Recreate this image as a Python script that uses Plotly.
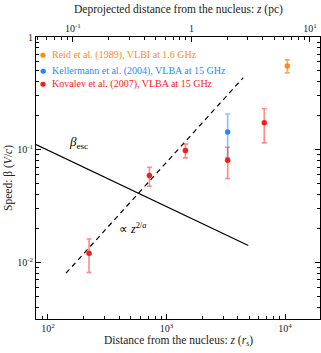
import plotly.graph_objects as go
import numpy as np

# ---- data ----
reid_x = [10450]
reid_y = [0.554]
reid_hi = [0.626]
reid_lo = [0.480]

kell_x = [3280]
kell_y = [0.1435]
kell_hi = [0.207]
kell_lo = [0.085]

kov_x = [222, 717, 1443, 3280, 6680]
kov_y = [0.0120, 0.0589, 0.098, 0.0804, 0.1734]
kov_hi = [0.0161, 0.0697, 0.112, 0.105, 0.232]
kov_lo = [0.0081, 0.0473, 0.0845, 0.0554, 0.1147]

besc_x = [79.3, 4900]
besc_y = [0.1107, 0.0141]

pow_x = [142, 4446]
pow_y = [0.0080, 0.436]

PC_OFFSET = 3.21  # log10(r_s per pc)

FONT = "Liberation Serif"
ORANGE = "#ff8c1a"
BLUE = "#1a8cff"
RED = "#ff1a1a"


def err(y, hi, lo):
    return ([h - v for v, h in zip(y, hi)], [v - l for v, l in zip(y, lo)])


fig = go.Figure()

fig.add_trace(go.Scatter(x=besc_x, y=besc_y, mode="lines",
                         line=dict(color="black", width=1.2), showlegend=False))
fig.add_trace(go.Scatter(x=pow_x, y=pow_y, mode="lines",
                         line=dict(color="black", width=1.2, dash="5px,4px"), showlegend=False))

for xs, ys, hi, lo, col, ecol in [
    (reid_x, reid_y, reid_hi, reid_lo, ORANGE, "rgba(255,140,26,0.75)"),
    (kell_x, kell_y, kell_hi, kell_lo, BLUE, "rgba(40,140,255,0.55)"),
    (kov_x, kov_y, kov_hi, kov_lo, RED, "rgba(255,40,40,0.55)"),
]:
    up, dn = err(ys, hi, lo)
    fig.add_trace(go.Scatter(
        x=xs, y=ys, mode="markers",
        marker=dict(color=col, size=5.5),
        error_y=dict(type="data", array=up, arrayminus=dn, color=ecol,
                     thickness=1.6, width=2.5),
        showlegend=False))

# invisible trace on top axis
fig.add_trace(go.Scatter(x=[1], y=[0.1], xaxis="x2", mode="markers",
                         marker=dict(opacity=0), showlegend=False, hoverinfo="skip"))


def minors(lo_dec, hi_dec):
    out = []
    for d in range(lo_dec, hi_dec + 1):
        for m in range(2, 10):
            out.append(m * 10 ** d)
    return out


axis_common = dict(type="log", showgrid=False, zeroline=False, showline=True,
                   linecolor="black", linewidth=1, ticks="inside", ticklen=5,
                   tickcolor="black", automargin=False,
                   tickfont=dict(family=FONT, size=10, color="#222"))

fig.update_layout(
    width=321, height=353,
    margin=dict(l=36, r=1, t=37, b=34),
    paper_bgcolor="white", plot_bgcolor="white",
    font=dict(family=FONT, size=11, color="#222"),
    xaxis=dict(**axis_common, range=[1.899, 4.295],
               tickmode="array", tickvals=[100, 1000, 10000],
               ticktext=["10<sup>2</sup>", "10<sup>3</sup>", "10<sup>4</sup>"],
               minor=dict(tickmode="array", tickvals=minors(1, 4), ticks="inside",
                          ticklen=3, tickcolor="black")),
    xaxis2=dict(**axis_common, overlaying="x", side="top",
                range=[1.899 - PC_OFFSET, 4.295 - PC_OFFSET],
                tickmode="array", tickvals=[0.1, 1, 10],
                ticktext=["10<sup>-1</sup>", "1", "10<sup>1</sup>"],
                minor=dict(tickmode="array", tickvals=minors(-2, 1), ticks="inside",
                           ticklen=3, tickcolor="black")),
    yaxis=dict(**axis_common, range=[-2.504, 0], mirror="ticks",
               tickmode="array", tickvals=[0.01, 0.1, 1],
               ticktext=["10<sup>-2</sup>", "10<sup>-1</sup>", "1"],
               minor=dict(tickmode="array", tickvals=minors(-3, -1), ticks="inside",
                          ticklen=3, tickcolor="black")),
)

annots = []
# axis titles
annots.append(dict(xref="paper", yref="paper", x=0.5, y=-0.078,
                   text="Distance from the nucleus: <i>z</i> (<i>r</i><sub>s</sub>)",
                   showarrow=False, xanchor="center", yanchor="middle",
                   font=dict(family=FONT, size=11.5, color="#222")))
annots.append(dict(xref="paper", yref="paper", x=0.5, y=1.099,
                   text="Deprojected distance from the nucleus: <i>z</i> (pc)",
                   showarrow=False, xanchor="center", yanchor="middle",
                   font=dict(family=FONT, size=11.5, color="#222")))
annots.append(dict(xref="paper", yref="paper", x=-0.099, y=0.5,
                   text="Speed: β (<i>V</i>/<i>c</i>)", textangle=-90,
                   showarrow=False, xanchor="center", yanchor="middle",
                   font=dict(family=FONT, size=11.5, color="#222")))

leg = [("Reid et al. (1989), VLBI at 1.6 GHz", ORANGE, 0.935),
       ("Kellermann et al. (2004), VLBA at 15 GHz", BLUE, 0.881),
       ("Kovalev et al. (2007), VLBA at 15 GHz", RED, 0.833)]
for txt, col, yy in leg:
    annots.append(dict(xref="paper", yref="paper", x=0.0236, y=yy, text="●",
                       showarrow=False, xanchor="center", yanchor="middle",
                       font=dict(family="DejaVu Sans", size=7, color=col)))
    annots.append(dict(xref="paper", yref="paper", x=0.049, y=yy, text=txt,
                       showarrow=False, xanchor="left", yanchor="middle",
                       font=dict(family=FONT, size=10, color=col)))

annots.append(dict(x=np.log10(144.5), y=np.log10(0.115), xref="x", yref="y",
                   text="<i>β</i><sub>esc</sub>", showarrow=False,
                   xanchor="left", yanchor="middle",
                   font=dict(family=FONT, size=13, color="black")))
annots.append(dict(x=np.log10(382), y=np.log10(0.02), xref="x", yref="y",
                   text="∝ <i>z</i><sup>2/<i>a</i></sup>", showarrow=False,
                   xanchor="left", yanchor="middle",
                   font=dict(family=FONT, size=12, color="black")))
fig.update_layout(annotations=annots)

fig.write_html("out.html", config={"displayModeBar": False},
               post_script="document.body.style.margin='0px';")
